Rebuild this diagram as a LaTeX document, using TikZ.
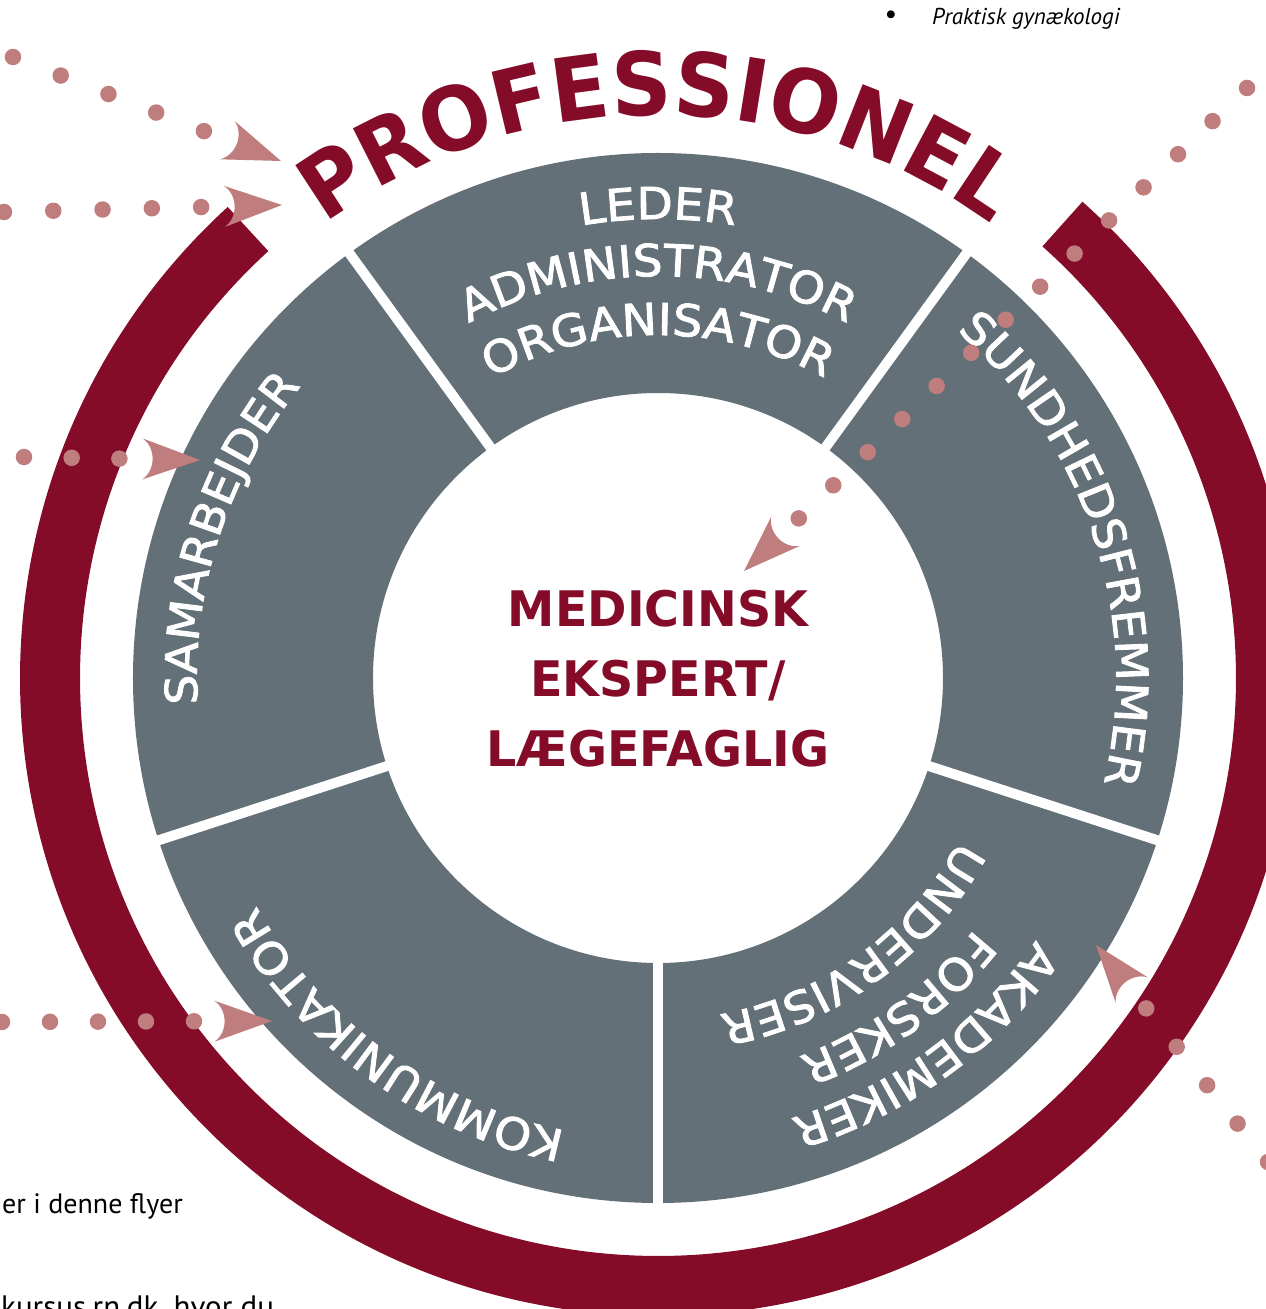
\documentclass[tikz,border=0pt]{standalone}
\usepackage{fontspec}
\setmainfont{DejaVu Sans}
\newfontfamily\ringfont[FakeStretch=1.07,FakeBold=2]{DejaVu Sans}
\newfontfamily\proffont[FakeStretch=0.95]{DejaVu Sans}
\newfontfamily\expertfont[FakeStretch=0.97]{DejaVu Sans}
\newfontfamily\notefont{PT Sans}
\usetikzlibrary{decorations.text}
\definecolor{profred}{HTML}{840C28}
\definecolor{ringgray}{HTML}{637078}
\definecolor{dotrose}{HTML}{BF7E7D}
\newcommand\ringtext{\ringfont\fontsize{44}{44}\selectfont}
\newcommand\proftext{\proffont\bfseries\fontsize{88}{88}\selectfont}
\begin{document}
\begin{tikzpicture}[x=1pt,y=1pt,
  dotline/.style={dotrose,line width=16.5,line cap=round,shorten >=60},
  dart/.pic={\fill[dotrose] (0,0) -- (-57.5,20.5) .. controls (-44,11) and (-44,-11) .. (-57.5,-20.5) -- cycle;},
  expert/.style={profred,inner sep=0,anchor=base,font=\expertfont\bfseries\fontsize{49}{49}\selectfont},
  bodytext/.style={black,inner sep=0,font=\notefont\fontsize{28}{28}\selectfont}]
  \useasboundingbox (-658,-631) rectangle (608,678);
  \fill[ringgray,even odd rule] (0,0) circle (525) (0,0) circle (285);
  \foreach \a in {-90,-18,54,126,198}
    \draw[white,line width=10] (\a:280) -- (\a:530);
  \draw[profred,line width=60] (132.4:608) arc[start angle=132.4,end angle=408.3,radius=608];
  \foreach \ang/\rad/\word in {90/459/LEDER,90/402/ADMINISTRATOR,90/343/ORGANISATOR,
      162/461/SAMARBEJDER,18/458/SUNDHEDSFREMMER,-54/460/AKADEMIKER,-54/404/FORSKER,
      -54/342/UNDERVISER,-126/462/KOMMUNIKATOR}
    \path[decorate,decoration={text along path,text align=center,text color=white,
        text/.expanded={|\noexpand\ringtext|\word}}]
      (\ang+45:\rad) arc[start angle=\ang+45,end angle=\ang-45,radius=\rad];
  \path[decorate,decoration={text along path,text align=center,text color=profred,
      text={|\proftext|PROFESSIONEL}}]
    (130:563) arc[start angle=130,end angle=50,radius=563];
  \node[expert] (med) at (0,51) {MEDICINSK};
  \node[expert] (eks) at ([yshift=-70]med.base) {EKSPERT/};
  \node[expert] (laege) at ([yshift=-69]eks.base) {LÆGEFAGLIG};
  \node[bodytext] (blt) at (233,661) {•};
  \node[bodytext,anchor=base west,font=\notefont\itshape\fontsize{23}{23}\selectfont] (gyn) at (274,653) {Praktisk gynækologi};
  \node[bodytext,anchor=base west] (flyer) at (-656,-535) {er i denne flyer};
  \node[bodytext,anchor=base west,font=\notefont\fontsize{31}{31}\selectfont] (kursus) at (-657,-639) {kursus.rn.dk, hvor du};
  \coordinate (s1) at (-645,621);  \coordinate (t1) at (-377,517);
  \coordinate (s2) at (-654,466);  \coordinate (t2) at (-376,473);
  \coordinate (s3) at (-634,221);  \coordinate (t3) at (-458,218);
  \coordinate (s4) at (-656,-344); \coordinate (t4) at (-386,-343);
  \coordinate (s5) at (589,590);   \coordinate (t5) at (86,107);
  \coordinate (s6) at (610,-484);  \coordinate (t6) at (438,-267);
  \foreach \s/\t/\gap/\rot in {s1/t1/51.2/-21.2,s2/t2/49.3/1.4,s3/t3/47.7/-1,
      s4/t4/48/0.2,s5/t5/47.8/223.8,s6/t6/49/128.4} {
    \draw[dotline,dash pattern=on 0pt off \gap pt] (\s) -- (\t);
    \pic[rotate=\rot] at (\t) {dart};
  }
\end{tikzpicture}
\end{document}
